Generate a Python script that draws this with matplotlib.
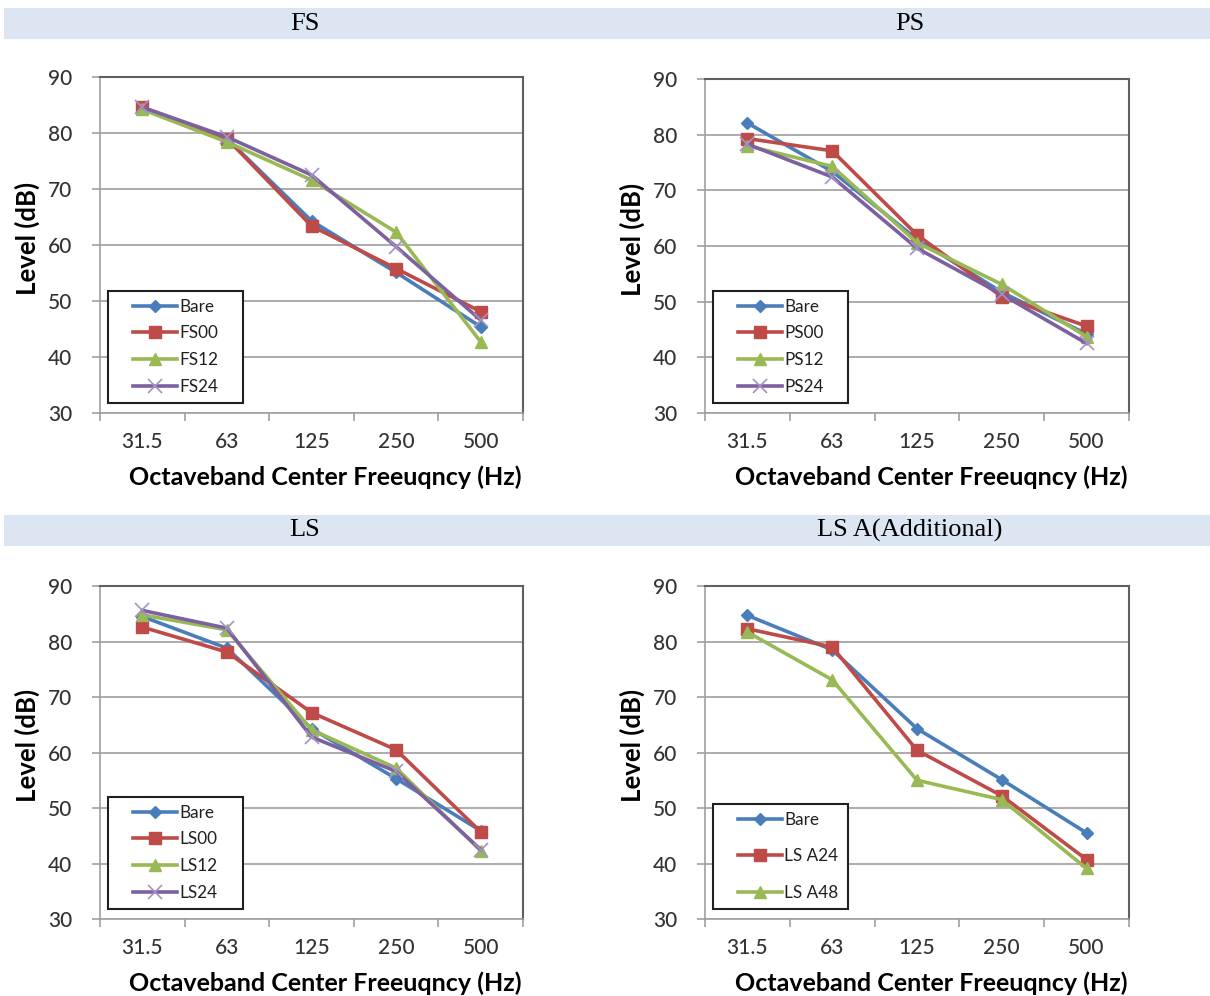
import matplotlib
matplotlib.use("Agg")
import matplotlib.pyplot as plt
from matplotlib.patches import Rectangle
from matplotlib.legend_handler import HandlerLine2D
from matplotlib.lines import Line2D

# ---------------- data ----------------
freqs = ["31.5", "63", "125", "250", "500"]

fs_labels = ["Bare", "FS00", "FS12", "FS24"]
fs_bare = [84.5, 79.0, 64.3, 55.1, 45.4]
fs_00 = [84.6, 79.0, 63.4, 55.8, 48.1]
fs_12 = [84.2, 78.4, 71.6, 62.3, 42.7]
fs_24 = [84.6, 79.3, 72.5, 59.7, 46.6]

ps_labels = ["Bare", "PS00", "PS12", "PS24"]
ps_bare = [82.1, 73.4, 61.2, 51.7, 44.2]
ps_00 = [79.3, 77.1, 62.0, 50.9, 45.6]
ps_12 = [78.0, 74.3, 60.6, 53.1, 43.7]
ps_24 = [78.3, 72.4, 59.6, 51.3, 42.5]

ls_labels = ["Bare", "LS00", "LS12", "LS24"]
ls_bare = [84.5, 78.8, 64.3, 55.3, 45.9]
ls_00 = [82.6, 78.1, 67.2, 60.5, 45.7]
ls_12 = [84.8, 82.1, 64.1, 57.2, 42.3]
ls_24 = [85.6, 82.4, 62.8, 56.6, 42.5]

lsa_labels = ["Bare", "LS A24", "LS A48"]
lsa_bare = [84.7, 78.5, 64.3, 55.1, 45.5]
lsa_24 = [82.3, 79.0, 60.4, 52.2, 40.7]
lsa_48 = [81.7, 73.1, 55.0, 51.5, 39.1]

panel_titles = ["FS", "PS", "LS", "LS A(Additional)"]
yticks = [30, 40, 50, 60, 70, 80, 90]
xlabel = "Octaveband Center Freeuqncy (Hz)"
ylabel = "Level (dB)"

# ---------------- style ----------------
W, H = 1210, 996
fig = plt.figure(figsize=(W / 100, H / 100), dpi=100)

colors = ["#4a7ebb", "#be4b48", "#98b954", "#7d60a0"]
markers = ["D", "s", "^", "x"]
msizes = [6.5, 9, 9, 10]
TICKFONT = "Lato"
LEGSIZE = 12.3
LEGPX = LEGSIZE * 100 / 72.0


def px_rect(l, t, r, b):
    return [l / W, 1 - b / H, (r - l) / W, (b - t) / H]


# header bands
for (t, b), (ta, tb) in [((8, 39), (panel_titles[0], panel_titles[1])),
                         ((515, 546), (panel_titles[2], panel_titles[3]))]:
    fig.patches.append(Rectangle((4 / W, 1 - b / H), (W - 4) / W, (b - t) / H,
                                 transform=fig.transFigure, facecolor="#dce6f2",
                                 edgecolor="none", zorder=0))
    yc = 1 - (t + b) / 2 / H
    fig.text(305 / W, yc, ta, ha="center", va="center",
             family="Liberation Serif", fontsize=19)
    fig.text(910 / W, yc, tb, ha="center", va="center",
             family="Liberation Serif", fontsize=19)

panels = [
    (px_rect(100, 77, 523, 413), [fs_bare, fs_00, fs_12, fs_24], fs_labels, 0.64),
    (px_rect(705, 79, 1129, 413), [ps_bare, ps_00, ps_12, ps_24], ps_labels, 0.64),
    (px_rect(100, 586, 523, 919), [ls_bare, ls_00, ls_12, ls_24], ls_labels, 0.64),
    (px_rect(705, 586, 1129, 919), [lsa_bare, lsa_24, lsa_48], lsa_labels, 1.22),
]

x = list(range(len(freqs)))
BORDERPAD = 0.45
handler = HandlerLine2D(xpad=(133 - 108 - BORDERPAD * LEGPX) / LEGPX)

for rect, series, labels, lspace in panels:
    ax = fig.add_axes(rect)
    axw, axh = rect[2] * W, rect[3] * H
    for i, (vals, lab) in enumerate(zip(series, labels)):
        mec = colors[i]
        mew = 1.0
        if markers[i] == "x":
            mec = "#a492c4"
            mew = 1.2
        ax.plot(x, vals, color=colors[i], lw=2.6, marker=markers[i],
                markersize=msizes[i], markerfacecolor=colors[i],
                markeredgecolor=mec, markeredgewidth=mew, label=lab,
                zorder=3 + i)
    ax.set_xlim(-0.5, len(freqs) - 0.5)
    ax.set_ylim(30, 90)
    ax.set_yticks(yticks)
    ax.set_xticks(x)
    ax.set_xticklabels(freqs)
    ax.set_xticks([v - 0.5 for v in range(len(freqs) + 1)], minor=True)
    ax.tick_params(axis="x", which="major", length=0, pad=14,
                   labelsize=15, labelcolor="#333333")
    ax.tick_params(axis="x", which="minor", length=6, width=1.2,
                   color="#a0a0a0", direction="out")
    ax.tick_params(axis="y", which="major", length=6, width=1.2,
                   color="#a0a0a0", pad=14, labelsize=15, labelcolor="#333333")
    for lab in ax.get_xticklabels() + ax.get_yticklabels():
        lab.set_family(TICKFONT)
        lab.set_fontweight("medium")
    ax.grid(axis="y", color="#a6a6a6", lw=1.3, zorder=0)
    ax.set_axisbelow(True)
    ax.spines["left"].set_color("#a0a0a0")
    ax.spines["bottom"].set_color("#a0a0a0")
    ax.spines["left"].set_linewidth(1.2)
    ax.spines["bottom"].set_linewidth(1.2)
    ax.spines["top"].set_color("#606060")
    ax.spines["right"].set_color("#606060")
    ax.spines["top"].set_linewidth(1.5)
    ax.spines["right"].set_linewidth(1.5)
    ax.set_xlabel(xlabel, family=TICKFONT, fontweight="bold", fontsize=18,
                  color="black", va="center")
    ax.xaxis.set_label_coords(0.5 + 14 / axw, -64 / axh)
    ax.set_ylabel(ylabel, family=TICKFONT, fontweight="bold", fontsize=18.5,
                  color="black")
    ax.yaxis.set_label_coords(-0.141, 0.52)

    leg = ax.legend(loc="lower left",
                    bbox_to_anchor=(8 / axw, 10 / axh, 135 / axw, 0.2),
                    mode="expand", frameon=True, fancybox=False,
                    edgecolor="#202020", framealpha=1, borderaxespad=0,
                    prop={"family": TICKFONT, "size": LEGSIZE},
                    handlelength=(177 - 108 - BORDERPAD * LEGPX) / LEGPX,
                    handletextpad=0.12,
                    labelspacing=lspace, borderpad=BORDERPAD,
                    handler_map={Line2D: handler})
    leg.get_frame().set_linewidth(1.5)
    for t in leg.get_texts():
        t.set_color("#202020")

fig.savefig("out.png", dpi=100)
